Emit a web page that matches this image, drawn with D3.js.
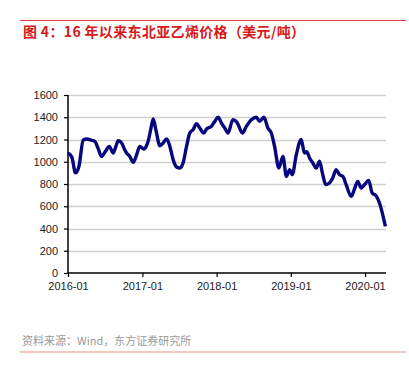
<!DOCTYPE html>
<html>
<head>
<meta charset="utf-8">
<script src="https://cdn.jsdelivr.net/npm/d3@7"></script>
<style>
  body { margin: 0; background: #fff; }
</style>
</head>
<body>
<div id="chart"></div>
<script>
const width = 409;
const height = 380;
const margin = { top: 95, right: 23, bottom: 107, left: 68 };

const titleText = "图 4：16 年以来东北亚乙烯价格（美元/吨）";
const sourceText = "资料来源：Wind，东方证券研究所";

const dates = [
    "2016-01-01", "2016-01-20", "2016-02-07", "2016-02-24", "2016-03-16", "2016-04-03",
    "2016-04-23", "2016-05-12", "2016-05-28", "2016-06-14", "2016-07-02", "2016-07-22",
    "2016-08-10", "2016-08-24", "2016-09-04", "2016-09-21", "2016-10-03", "2016-10-15",
    "2016-10-31", "2016-11-17", "2016-12-03", "2016-12-19", "2017-01-08", "2017-01-20",
    "2017-01-29", "2017-02-11", "2017-02-23", "2017-03-08", "2017-03-28", "2017-04-13",
    "2017-04-30", "2017-05-16", "2017-06-01", "2017-06-18", "2017-07-04", "2017-07-20",
    "2017-08-06", "2017-08-22", "2017-09-07", "2017-09-24", "2017-10-10", "2017-10-30",
    "2017-11-12", "2017-12-06", "2017-12-23", "2018-01-08", "2018-01-25", "2018-02-10",
    "2018-02-26", "2018-03-22", "2018-04-11", "2018-05-08", "2018-05-27", "2018-06-21",
    "2018-07-15", "2018-07-31", "2018-08-22", "2018-09-10", "2018-09-27", "2018-10-13",
    "2018-11-03", "2018-11-23", "2018-12-10", "2018-12-26", "2019-01-08", "2019-01-28",
    "2019-02-21", "2019-03-09", "2019-03-20", "2019-04-03", "2019-04-19", "2019-05-06",
    "2019-05-22", "2019-06-07", "2019-06-21", "2019-07-10", "2019-07-26", "2019-08-12",
    "2019-08-28", "2019-09-14", "2019-09-30", "2019-10-25", "2019-11-10", "2019-11-26",
    "2019-12-13", "2019-12-29", "2020-01-19", "2020-02-05", "2020-02-24", "2020-03-12",
    "2020-04-10"
];

const prices = [
    1080, 1040, 900, 960, 1195, 1205,
    1195, 1183, 1120, 1048, 1090, 1138,
    1079, 1140, 1190, 1169, 1120, 1079,
    1048, 994, 1060, 1138, 1114, 1140,
    1183, 1290, 1384, 1288, 1144, 1169,
    1205, 1138, 1019, 953, 944, 989,
    1138, 1258, 1288, 1342, 1303, 1258,
    1294, 1318, 1363, 1400, 1348, 1303,
    1258, 1378, 1354, 1258, 1318, 1378,
    1400, 1363, 1400, 1303, 1258, 1138,
    944, 1048, 868, 929, 884, 1064,
    1200, 1079, 1090, 1034, 989, 944,
    1004, 884, 794, 809, 854, 929,
    884, 868, 794, 689, 755, 823,
    764, 794, 833, 719, 695, 629,
    419
];

const yTicks = [0, 200, 400, 600, 800, 1000, 1200, 1400, 1600];
const xTicks = ["2016-01-01", "2017-01-01", "2018-01-01", "2019-01-01", "2020-01-01"];

const parseDate = d3.timeParse("%Y-%m-%d");
const data = dates.map((d, i) => ({ date: parseDate(d), value: prices[i] }));

const svg = d3.select("#chart")
    .append("svg")
    .attr("width", width)
    .attr("height", height);

// header rule and title
svg.append("line")
    .attr("x1", 20).attr("x2", 406)
    .attr("y1", 20.5).attr("y2", 20.5)
    .attr("stroke", "#e03c3c")
    .attr("stroke-width", 1);

svg.append("text")
    .attr("x", 23)
    .attr("y", 37)
    .attr("fill", "#d7191c")
    .attr("textLength", 282)
    .attr("lengthAdjust", "spacing")
    .style("font-family", "'Noto Sans CJK SC', sans-serif")
    .style("font-size", "14px")
    .style("font-weight", "bold")
    .text(titleText);

const xScale = d3.scaleTime()
    .domain([parseDate("2016-01-01"), parseDate("2020-04-13")])
    .range([margin.left, width - margin.right]);

const yScale = d3.scaleLinear()
    .domain([0, 1600])
    .range([height - margin.bottom, margin.top]);

// gridlines
svg.append("g")
    .selectAll("line")
    .data(yTicks.filter(d => d > 0))
    .enter()
    .append("line")
    .attr("x1", margin.left)
    .attr("x2", width - margin.right)
    .attr("y1", d => Math.round(yScale(d)) + 0.5)
    .attr("y2", d => Math.round(yScale(d)) + 0.5)
    .attr("stroke", "#d0d0d0")
    .attr("stroke-width", 1.5);

const yAxis = d3.axisLeft(yScale)
    .tickValues(yTicks)
    .tickFormat(d3.format("d"))
    .tickSize(4)
    .tickPadding(6);

const yAxisGroup = svg.append("g")
    .attr("transform", `translate(${margin.left}, 0)`)
    .call(yAxis);

const xAxis = d3.axisBottom(xScale)
    .tickValues(xTicks.map(parseDate))
    .tickFormat(d3.timeFormat("%Y-%m"))
    .tickSize(4)
    .tickPadding(5);

const xAxisGroup = svg.append("g")
    .attr("transform", `translate(0, ${height - margin.bottom})`)
    .call(xAxis);

[yAxisGroup, xAxisGroup].forEach(g => {
    g.attr("font-family", null);
    g.select(".domain").attr("stroke", "#000").attr("stroke-width", 1.5);
    g.selectAll(".tick line").attr("stroke", "#000").attr("stroke-width", 1.2);
    g.selectAll("text")
        .attr("fill", "#222")
        .style("font-family", "'Liberation Sans', Arial, sans-serif")
        .style("font-size", "11px");
});
yAxisGroup.select(".domain").attr("d", `M-0,${yScale(1600)}V${yScale(0)}`);
xAxisGroup.select(".domain").attr("d", `M${margin.left},0H${width - margin.right}`);

const line = d3.line()
    .x(d => xScale(d.date))
    .y(d => yScale(d.value))
    .curve(d3.curveMonotoneX);

svg.append("path")
    .datum(data)
    .attr("fill", "none")
    .attr("stroke", "#07077d")
    .attr("stroke-width", 3.4)
    .attr("stroke-linejoin", "round")
    .attr("d", line);

// footer
svg.append("text")
    .attr("x", 22)
    .attr("y", 345)
    .attr("fill", "#9a9a9a")
    .style("font-family", "'Noto Sans CJK SC', sans-serif")
    .style("font-size", "11px")
    .text(sourceText);

svg.append("line")
    .attr("x1", 20).attr("x2", 406)
    .attr("y1", 352).attr("y2", 352)
    .attr("stroke", "#ec8a80")
    .attr("stroke-width", 1);
</script>
</body>
</html>
